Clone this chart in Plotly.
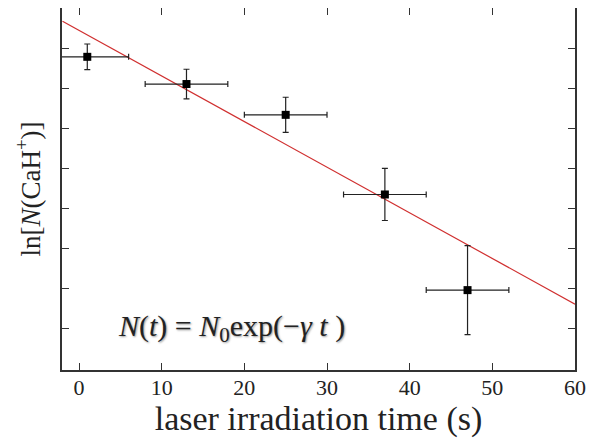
import plotly.graph_objects as go

# data
t_vals = [1, 13, 25, 37, 47]
lnN_vals = [7.78, 7.10, 6.33, 4.34, 1.95]
t_err = [5, 5, 5, 5, 5]
lnN_err = [0.32, 0.37, 0.44, 0.65, 1.11]

fit_t = [-2, 60]
fit_lnN = [8.67, 1.60]

x_ticks = [0, 10, 20, 30, 40, 50, 60]
y_ticks = [1, 2, 3, 4, 5, 6, 7, 8]

SERIF = "Liberation Serif"

fig = go.Figure()
fig.add_trace(go.Scatter(
    x=fit_t, y=fit_lnN, mode="lines",
    line=dict(color="#d03030", width=1.2), showlegend=False, hoverinfo="skip"))
fig.add_trace(go.Scatter(
    x=t_vals, y=lnN_vals, mode="markers",
    marker=dict(symbol="square", size=8, color="black"),
    error_x=dict(type="data", array=t_err, color="#222", thickness=1.2, width=3),
    error_y=dict(type="data", array=lnN_err, color="#222", thickness=1.2, width=3),
    showlegend=False))

axis_common = dict(showline=True, linecolor="#333", linewidth=1.5, mirror="ticks",
                   ticks="inside", ticklen=7, tickcolor="#333", tickwidth=1.3,
                   showgrid=False, zeroline=False, automargin=False)

fig.update_xaxes(range=[-2.06, 60], tickvals=x_ticks, **axis_common,
                 tickfont=dict(family=SERIF, size=22, color="#222"),
                 ticklabelstandoff=-3,
                 title=dict(text="laser irradiation time (s)",
                            font=dict(family=SERIF, size=34, color="#222"), standoff=6))
fig.update_yaxes(range=[-0.046, 9.0], tickvals=y_ticks, showticklabels=False, **axis_common,
                 title=dict(text="ln[<i>N</i>(CaH<sup>+</sup>)]",
                            font=dict(family=SERIF, size=27, color="#222"), standoff=12))

fig.add_annotation(x=0.106, y=0.117, xref="paper", yref="paper", xanchor="left", yanchor="middle",
                   text="<i>N</i>(<i>t</i>) = <i>N</i><sub>0</sub>exp(−<i>γ t</i> )",
                   showarrow=False,
                   font=dict(family=SERIF, size=30, color="#222", shadow="1px 1px 2px #999"))

fig.update_layout(width=592, height=431, margin=dict(l=54, r=25, t=0, b=69),
                  plot_bgcolor="white", paper_bgcolor="white")

fig.write_html("out.html")
